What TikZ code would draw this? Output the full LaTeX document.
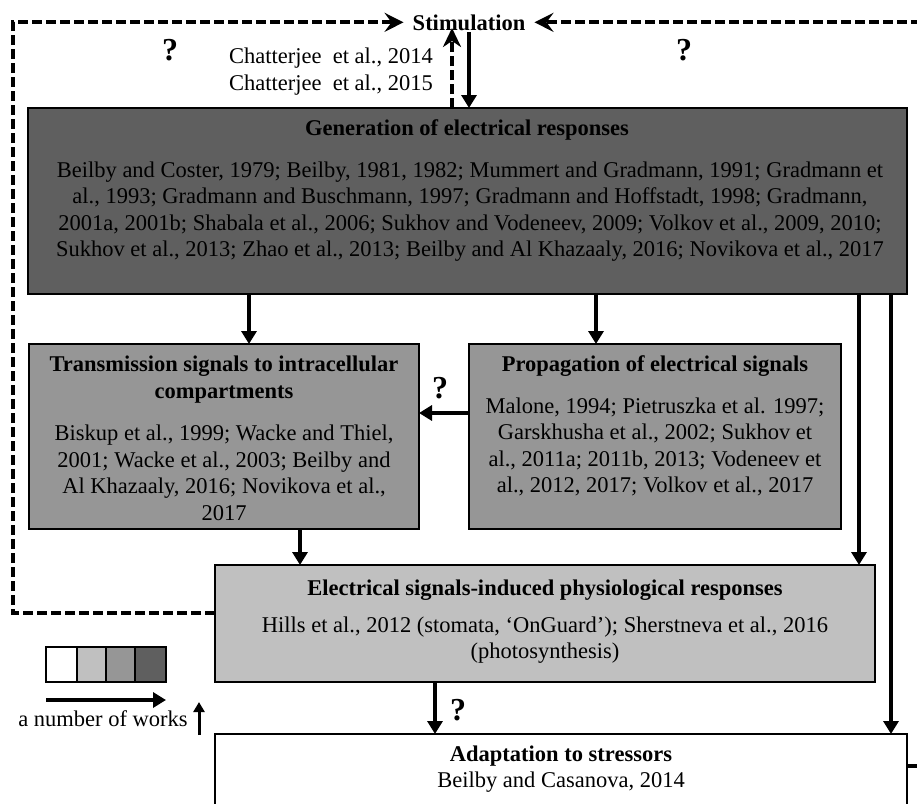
\documentclass[tikz,border=0pt]{standalone}
\usepackage{fontspec}
\setmainfont{Liberation Serif}
\usetikzlibrary{arrows.meta}
\definecolor{dk}{HTML}{5F5F5F}
\definecolor{md}{HTML}{969696}
\definecolor{lt}{HTML}{C0C0C0}
\begin{document}
\begin{tikzpicture}[x=1pt,y=-1pt,
  box/.style={draw=black, line width=2pt, inner sep=0pt, outer sep=0pt, anchor=north west},
  txt/.style={font=\fontsize{22.5}{26.5}\selectfont, align=center, inner sep=0pt},
  ttl/.style={font=\fontsize{22.5}{26.5}\selectfont\bfseries, align=center, inner sep=0pt},
  arr/.style={line width=3.5pt, -{Triangle[length=13pt,width=15pt]}},
  dsh/.style={line width=3.8pt, dash pattern=on 10pt off 4pt, -{Stealth[length=19pt,width=19pt,inset=7pt]}},
  dshs/.style={line width=3.5pt, dash pattern=on 10pt off 4pt, -{Stealth[length=19pt,width=18pt,inset=6pt]}},
  q/.style={font=\fontsize{32}{32}\selectfont\bfseries, inner sep=0pt},
  leg/.style={draw=black, line width=1.8pt, inner sep=0pt, outer sep=0pt, anchor=north west, minimum height=35pt}]
\useasboundingbox (0,0) rectangle (917,803);

% boxes
\node[box, fill=dk, minimum width=879pt, minimum height=186pt] (gen) at (28,108) {};
\node[box, fill=md, minimum width=390pt, minimum height=185pt] (trans) at (29,344) {};
\node[box, fill=md, minimum width=372pt, minimum height=185pt] (prop) at (469,344) {};
\node[box, fill=lt, minimum width=660pt, minimum height=117pt] (ind) at (215,565) {};
\node[box, fill=white, minimum width=692pt, minimum height=90pt] (adapt) at (215,734) {};

% texts
\node[ttl] (genT) at (467,130) {Generation of electrical responses};
\node[txt] (genB) at (470,211.5) {Beilby and Coster, 1979; Beilby, 1981, 1982; Mummert and Gradmann, 1991; Gradmann et\\
al., 1993; Gradmann and Buschmann, 1997; Gradmann and Hoffstadt, 1998; Gradmann,\\
2001a, 2001b; Shabala et al., 2006; Sukhov and Vodeneev, 2009; Volkov et al., 2009, 2010;\\
Sukhov et al., 2013; Zhao et al., 2013; Beilby and Al Khazaaly, 2016; Novikova et al., 2017};

\node[ttl] (transT) at (224,379.5) {Transmission signals to intracellular\\compartments};
\node[txt] (transB) at (224,473) {Biskup et al., 1999; Wacke and Thiel,\\2001; Wacke et al., 2003; Beilby and\\Al Khazaaly, 2016; Novikova et al.,\\2017};

\node[ttl] (propT) at (655,366) {Propagation of electrical signals};
\node[txt] (propB) at (655,447) {Malone, 1994; Pietruszka et al. 1997;\\Garskhusha et al., 2002; Sukhov et\\al., 2011a; 2011b, 2013; Vodeneev et\\al., 2012, 2017; Volkov et al., 2017};

\node[ttl] (indT) at (545,590) {Electrical signals-induced physiological responses};
\node[txt] (indB) at (545,640) {Hills et al., 2012 (stomata, ‘OnGuard’); Sherstneva et al., 2016\\(photosynthesis)};

\node[ttl] (adT) at (561,756) {Adaptation to stressors};
\node[txt] (adB) at (561,782) {Beilby and Casanova, 2014};

% stimulation
\node[ttl, anchor=base, inner xsep=9pt, inner ysep=0pt] (stim) at (469,30) {Stimulation};
\node[txt, anchor=east] (chat) at (433,71.5) {Chatterjee\ \ et al., 2014\\Chatterjee\ \ et al., 2015};

\node[q] (q1) at (170,50) {?};
\node[q] (q2) at (684,50) {?};
\node[q] (q3) at (440,388) {?};
\node[q] (q4) at (458,710) {?};

% coordinates for connector positions
\coordinate (xa) at (249,0);
\coordinate (xb) at (596,0);
\coordinate (xc) at (859,0);
\coordinate (xe) at (891,0);
\coordinate (xf) at (300,0);
\coordinate (xg) at (435,0);
\coordinate (yp) at (0,413);
\coordinate (xs) at (469,0);
\coordinate (xd) at (452,0);
\coordinate (ss) at (0,32);
\coordinate (sd) at (0,28);
\coordinate (lb) at (13,613);
\coordinate (rb) at (927,766);

% connectors
\draw[arr] (gen.south -| xa) -- (trans.north -| xa);
\draw[arr] (gen.south -| xb) -- (prop.north -| xb);
\draw[arr] (gen.south -| xc) -- (ind.north -| xc);
\draw[arr] (gen.south -| xe) -- (adapt.north -| xe);
\draw[arr] (prop.west |- yp) -- (trans.east |- yp);
\draw[arr] (trans.south -| xf) -- (ind.north -| xf);
\draw[arr] (ind.south -| xg) -- (adapt.north -| xg);
\draw[arr] (ss -| xs) -- (gen.north -| xs);
\draw[dshs] (gen.north -| xd) -- (sd -| xd);
\draw[dsh] (ind.west |- lb) -- (lb) |- (stim.west);
\draw[dsh] (adapt.east |- rb) -- (rb) |- (stim.east);

% legend
\node[leg, fill=white, minimum width=31pt] (l1) at (46,647) {};
\node[leg, fill=lt, minimum width=29pt] (l2) at (l1.north east) {};
\node[leg, fill=md, minimum width=29pt] (l3) at (l2.north east) {};
\node[leg, fill=dk, minimum width=31pt] (l4) at (l3.north east) {};
\coordinate (la) at (46,700);
\draw[arr] (la) -- (la -| l4.east);
\node[txt] (works) at (103,718.5) {a number of works};
\coordinate (ua) at (199,735);
\coordinate (ub) at (199,702);
\draw[line width=3pt, -{Triangle[length=10pt,width=11pt]}] (ua) -- (ub);
\end{tikzpicture}
\end{document}
